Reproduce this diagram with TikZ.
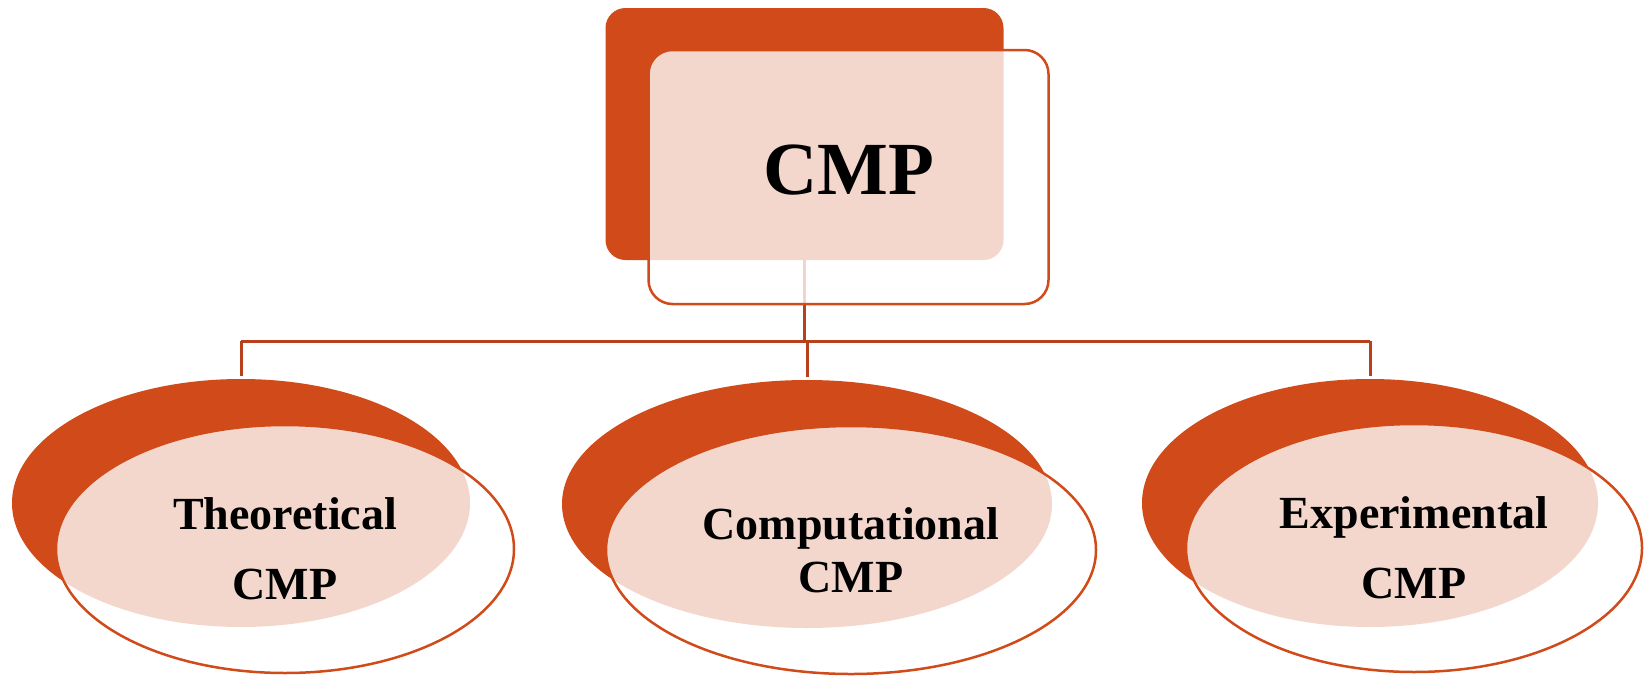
\documentclass[tikz,border=0pt]{standalone}
\usepackage{fontspec}
\setmainfont{Liberation Serif}
\usetikzlibrary{shapes.geometric,calc,positioning}

\definecolor{cmporange}{RGB}{209,74,25}
\definecolor{cmpline}{RGB}{184,64,26}

\tikzset{
  backbox/.style={rectangle, rounded corners=20pt, fill=cmporange,
    minimum width=398pt, minimum height=252pt, inner sep=0pt},
  frontbox/.style={rectangle, rounded corners=24pt, draw=cmporange, line width=2.5pt,
    fill=white, fill opacity=0.78, text opacity=1,
    minimum width=400pt, minimum height=254pt, inner sep=0pt,
    font=\fontsize{75}{80}\selectfont\bfseries, text depth=14pt},
  backoval/.style={ellipse, fill=cmporange, inner sep=0pt, minimum height=248pt},
  frontoval/.style={ellipse, draw=cmporange, line width=2.5pt,
    fill=white, fill opacity=0.78, text opacity=1,
    inner sep=0pt, minimum height=248pt, align=center},
  link/.style={draw=cmpline, line width=3pt}
}

\begin{document}
\begin{tikzpicture}[x=1pt, y=-1pt]
    \useasboundingbox (0,0) rectangle (1644,675);

    % back shapes
    \node[backbox] (topBack) at (804.5,134) {};
    \node[backoval, minimum width=458pt] (theoBack) at (241,503) {};
    \node[backoval, minimum width=490pt] (compBack) at (807,504) {};
    \node[backoval, minimum width=456pt] (explBack) at (1370,503) {};

    % tree lines
    \coordinate (bar) at (0,341);
    \draw[link] (topBack.south) -- (topBack.south |- bar);
    \draw[link, shorten >=3pt] (theoBack.north |- bar) -- (theoBack.north);
    \draw[link] (theoBack.north |- bar) -- (explBack.north |- bar);
    \draw[link, shorten >=3pt] (explBack.north |- bar) -- (explBack.north);
    \draw[link, shorten >=3pt] (compBack.north |- bar) -- (compBack.north);

    % front shapes
    \node[frontbox] (top) at ($(topBack)+(44,43)$) {CMP};

    \node[frontoval, minimum width=458pt, font=\fontsize{46}{70}\selectfont\bfseries]
      (theo) at ($(theoBack)+(44,46)$) {Theoretical\\CMP};
    \node[frontoval, minimum width=490pt, font=\fontsize{46}{53}\selectfont\bfseries]
      (comp) at ($(compBack)+(44,46)$) {Computational\\CMP};
    \node[frontoval, minimum width=456pt, font=\fontsize{46}{70}\selectfont\bfseries]
      (expl) at ($(explBack)+(44,45)$) {Experimental\\CMP};

\end{tikzpicture}
\end{document}
